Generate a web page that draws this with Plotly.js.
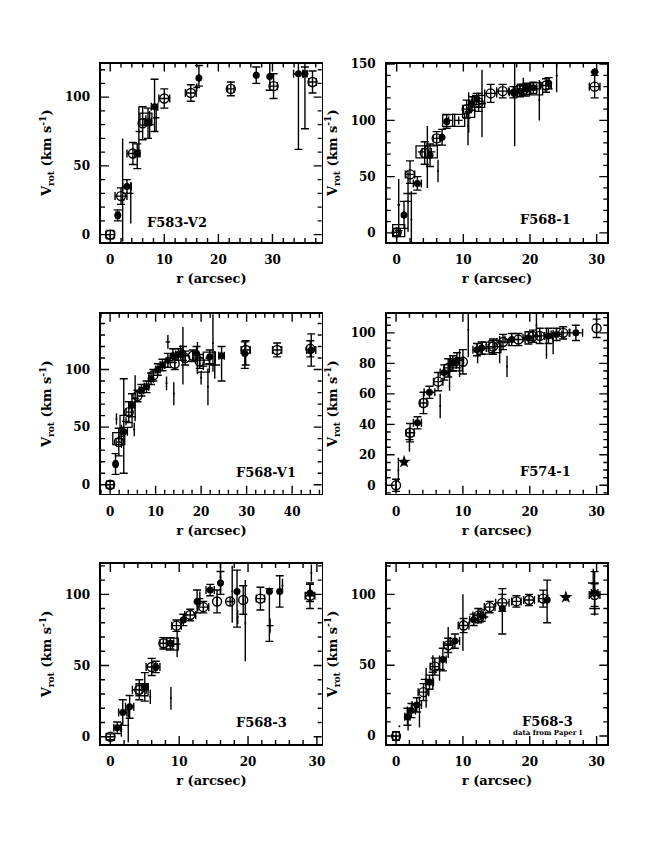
<!DOCTYPE html>
<html><head><meta charset="utf-8">
<script src="https://cdn.plot.ly/plotly-3.0.1.min.js"></script>
<style>html,body{margin:0;padding:0;background:#fff}#chart{width:664px;height:861px}</style>
</head><body><div id="chart"></div>
<script>
// rows: [r (arcsec), Vrot (km/s), err up, err down, err r]
// ---- F583-V2 ----
const F583V2_open = [[0,0,3,3,0.8],[2.0,28,6,6,1.1],[4.2,59,8,8,1.1],[6.0,81,12,12,0],[10.0,99,7,7,1.0],[14.9,103,6,6,1.0],[22.3,106,5,5,0.6],[30.2,108,9,9,0.7],[37.4,111,8,8,0.7]];
const F583V2_filled = [[1.4,14,4,4,0.3],[3.1,35,5,5,0.8],[5.0,59,7,11,0.5],[7.0,82,10,12,0.6],[8.2,93,20,18,0.6],[16.4,114,9,6,0],[27.0,116,6,6,0],[29.5,115,15,10,0],[34.8,117,20,55,0.9],[36.0,117,5,40,0.4]];
const F583V2_cross = [[2.3,25,45,30,0.3],[3.8,30,8,22,0.5],[5.3,75,18,18,0.6],[7.3,80,10,10,0.8],[8.5,85,10,10,0.6],[16.0,107,3,3,0.6]];
const F583V2_square = [[6.6,84,0,0,0]];
// ---- F568-1 ----
const F5681_open = [[0,0.6,3,3,0.5],[2.0,52,12,8,0.7],[4.2,71,10,10,0],[6.0,84,6,6,0.5],[10.5,110,8,8,0.5],[12.3,116,8,8,0],[14.1,124,8,8,0.9],[15.9,126,6,6,0.9],[19.0,127,5,5,0],[22.4,131,6,6,0.8],[29.7,130,10,10,0.8]];
const F5681_filled = [[1.1,16,12,12,0],[3.1,44,6,6,0.6],[5.0,69,10,10,0],[6.8,85,7,7,0],[7.5,99,6,6,0],[11.3,115,6,6,0],[12.0,119,5,5,0],[17.5,125,5,5,0.6],[18.5,126,5,5,0.6],[19.5,128,5,5,0.5],[20.5,129,5,5,0.5],[22.8,133,5,5,0],[29.7,143,0,0,0]];
const F5681_cross = [[0.3,25,23,27,0.2],[1.7,28,27,27,0.6],[2.2,12,25,25,0],[2.0,35,0,0,1.0],[4.6,60,35,20,0],[6.2,55,10,10,0],[10.7,95,17,17,0],[10.8,107,18,18,0.5],[12.8,115,30,30,0.6],[17.7,122,30,45,0.5],[21.4,118,18,18,0],[24.0,140,15,15,0],[19.0,131,7,7,0.8]];
const F5681_square = [[0.3,2,0,0,0],[3.8,72,0,0,0],[5.2,72,0,0,0],[7.8,100,0,0,0],[9.3,100,0,0,0],[10.8,108,0,0,0],[12.3,117,0,0,0],[19.0,127,0,0,0],[21.0,128,0,0,0]];
// ---- F568-V1 ----
const F568V1_open = [[0,0,3,3,0.8],[1.9,37,12,12,0.6],[4.1,63,9,9,0.6],[6.0,77,5,5,0],[9.5,95,5,5,0],[14.2,105,5,5,0],[16.5,110,6,6,0],[18.2,112,5,5,0],[19.7,107,6,6,0],[29.8,117,8,13,1.0],[36.7,117,6,6,1.0],[44.0,118,7,7,0]];
const F568V1_filled = [[1.2,18,9,9,0.3],[3.0,46,46,36,0.8],[4.8,69,10,10,0.6],[6.9,82,5,5,0.5],[8.0,85,5,5,0.5],[9.0,92,5,5,0.5],[10.5,100,5,5,0.5],[11.5,104,5,5,0.5],[12.7,108,6,6,0],[13.8,112,6,6,0],[15.0,113,5,5,0.6],[16.0,114,6,6,0],[19.0,114,6,6,0],[21.9,111,6,6,0],[24.5,112,8,22,0.6],[29.6,114,10,13,0],[44.2,117,14,14,1.0]];
const F568V1_cross = [[1.4,57,5,5,0],[2.5,42,10,10,0.8],[5.3,48,6,6,0],[5.5,75,20,20,0.8],[12.4,88,6,6,0],[12.7,124,6,6,0.5],[14.0,79,10,10,0],[15.5,116,5,5,0.5],[16.0,112,25,25,1.2],[19.2,110,14,14,1.2],[20.0,93,6,6,0],[21.5,85,16,16,0],[22.6,123,25,25,0],[23.0,104,12,12,1.2]];
const F568V1_square = [[1.9,40,0,0,0],[3.5,55,0,0,0],[20.5,103,0,0,0],[21.8,110,0,0,0]];
// ---- F574-1 ----
const F5741_open = [[0,0,4,4,0],[2.1,34.5,6,6,0.6],[4.1,54,7,7,0.5],[6.3,68,6,6,0.7],[7.8,77,6,6,0.6],[10.0,81,8,8,0],[14.5,91,5,5,1.0],[16.0,94,5,5,0.9],[18.3,95.6,4,4,1.0],[20.5,97.8,4,4,1.2],[21.5,98,5,5,1.0],[25.0,100,4,4,1.0],[30.0,103,6,6,0]];
const F5741_filled = [[3.2,41,4,4,0.6],[5.0,61,4,4,0.8],[7.2,74,5,5,0.6],[8.5,80,5,5,0.5],[9.1,82,5,5,1.0],[12.1,89,4,4,0.6],[12.8,90,4,4,0.7],[17.3,95.6,4,4,1.0],[19.8,96.7,4,4,0.8],[22.8,98,5,5,0.6],[24.0,99,4,4,0.8],[26.9,100,5,5,1.0]];
const F5741_star = [[1.2,15.4,0,0,0]];
const F5741_cross = [[0.35,10,8,8,0],[2.0,30,8,8,0.6],[6.6,52,8,8,0],[8.0,72,10,10,0],[9.5,80,9,9,0],[10.8,102,18,18,0],[12.2,85,5,5,0],[15.5,89,9,9,0],[16.6,78,7,7,0],[21.0,105,8,8,0],[22.5,93,10,10,0],[23.5,94,8,8,0]];
const F5741_square = [[9.0,79,0,0,0],[13.8,90,0,0,0],[14.8,91,0,0,0]];
// ---- F568-3 ----
const F5683_open = [[0,0,2,2,0.6],[4.2,33,7,7,1.0],[6.0,49,6,6,0.8],[7.7,65.6,4,4,0.5],[9.6,78,4,4,0.7],[11.6,85.5,4,4,0.8],[13.5,91,4,4,0.8],[15.5,95,8,8,0],[17.4,95,0,0,0],[19.3,96,10,10,0],[21.8,97,8,8,0.6],[29.0,99,9,9,0.7]];
const F5683_filled = [[1.0,6.3,4,4,0.5],[1.8,17,9,9,0.6],[2.8,21,8,8,0.6],[5.0,35,10,10,0.5],[6.6,49,4,4,0.6],[8.7,65.6,4,4,0.5],[10.6,82,4,4,0],[12.6,95,8,8,0],[14.5,103,4,4,0.6],[16.0,108,8,8,0],[18.4,102,15,25,0],[23.1,102,2,35,0],[24.6,102,11,11,0],[29.0,101,6,6,0]];
const F5683_cross = [[1.6,5,5,5,0],[2.6,8,12,12,0],[5.8,28,5,5,0],[8.8,27,8,8,0],[9.7,65,9,9,0.5],[13.0,97,5,5,0.5],[16.0,112,12,12,0],[17.7,102,18,22,0],[18.5,84,5,5,0],[19.6,80,30,27,0],[23.2,78,5,5,0.5],[25.0,106,5,5,0],[29.2,115,6,6,0]];
const F5683_square = [[4.6,33,0,0,0],[9.0,65,0,0,0]];
// ---- F568-3 (Paper I) ----
const F5683P_open = [[0,0,3,3,0.5],[4.1,31,6,6,0.8],[5.8,49,6,6,0.7],[7.8,64,5,5,0.7],[10.1,78,5,5,0.8],[12.3,85,5,5,0.8],[14.0,91,4,4,0.8],[15.9,94,6,6,1.0],[18.0,95,4,4,0.7],[19.9,96,4,4,0.8],[22.0,97,6,6,0.7],[29.7,99.5,8,8,0.8]];
const F5683P_filled = [[1.7,13.6,6,6,0.4],[2.3,18,5,5,0.6],[3.1,22,5,5,0.7],[5.0,38,5,5,0.6],[7.0,54,8,8,0.5],[8.8,67,5,5,0.7],[11.6,82,4,4,0.6],[12.8,85,4,4,0.6],[15.9,90,14,18,0],[22.6,96,14,16,0],[29.7,101,15,15,0.5]];
const F5683P_star = [[25.4,98,0,0,0]];
const F5683P_cross = [[0.5,7,0,0,0],[1.8,12,5,8,0],[3.5,22,6,16,0],[4.5,40,8,20,0.8],[5.5,45,12,12,0.6],[6.5,47,8,8,0.8],[7.8,65,12,10,0.6],[10.0,80,20,20,0],[13.0,84,4,4,0.8],[29.5,108,10,10,0.8],[29.7,90,5,5,0.8]];

const names = ['F583-V2','F568-1','F568-V1','F574-1','F568-3','F568-3'];
const xRanges = [[-1.7,39.1],[-1.5,31.6],[-2.0,46.5],[-1.4,31.6],[-1.36,30.7],[-1.4,31.6]];
const yRanges = [[-5.4,124.5],[-8.1,150.6],[-7.8,148.4],[-5.5,112.5],[-5.1,121.3],[-5.6,121.4]];
const xDtick = 10;
const yDticks = [50,50,50,20,50,50];
const yMinor = [10,10,10,5,10,10];
const xMinor = [2,2,2,2,2,2];
const labelPos = [[12.4,9],[22.4,12],[34.2,10.6],[22.4,8.8],[22,9.8],[22.6,10.5]];

const FONT = 'DejaVu Serif';
const traces = [];
function nz(a){ return a.map(v => v ? v : null); }
function add(rows, kind, i){
  const xa = 'x' + (i ? i+1 : ''), ya = 'y' + (i ? i+1 : '');
  const cap = (kind === 'cross') ? 0 : 4;
  let marker;
  if (kind === 'open') marker = {symbol:'circle-open', size:9, color:'#000', line:{width:1.4, color:'#000'}};
  else if (kind === 'filled') marker = {symbol:'circle', size:7, color:'#000'};
  else if (kind === 'square') marker = {symbol:'square-open', size:12, color:'#000', line:{width:1.3, color:'#000'}};
  else if (kind === 'star') marker = {symbol:'star', size:10, color:'#000'};
  else marker = {symbol:'circle', size:2, color:'#000'};
  traces.push({
    type:'scatter', mode:'markers', xaxis:xa, yaxis:ya, showlegend:false, hoverinfo:'skip',
    x: rows.map(d=>d[0]), y: rows.map(d=>d[1]), marker: marker,
    error_y: {type:'data', symmetric:false, array:nz(rows.map(d=>d[2])), arrayminus:nz(rows.map(d=>d[3])), color:'#000', thickness:1.4, width:cap, visible:true},
    error_x: {type:'data', array:nz(rows.map(d=>d[4])), color:'#000', thickness:1.4, width:cap, visible:true}
  });
}
const panels = [
  {open:F583V2_open, filled:F583V2_filled, cross:F583V2_cross, square:F583V2_square},
  {open:F5681_open, filled:F5681_filled, cross:F5681_cross, square:F5681_square},
  {open:F568V1_open, filled:F568V1_filled, cross:F568V1_cross, square:F568V1_square},
  {open:F5741_open, filled:F5741_filled, cross:F5741_cross, square:F5741_square, star:F5741_star},
  {open:F5683_open, filled:F5683_filled, cross:F5683_cross, square:F5683_square},
  {open:F5683P_open, filled:F5683P_filled, cross:F5683P_cross, star:F5683P_star}
];
panels.forEach((p,i)=>{
  ['cross','square','open','filled','star'].forEach(k=>{ if (p[k]) add(p[k], k, i); });
});

// tick values inside a range
function tickVals(rng, dt){
  const out = [];
  for (let k = Math.ceil(rng[0]/dt - 1e-9); k*dt <= rng[1] + 1e-9; k++) out.push(+(k*dt).toFixed(6));
  return out;
}

const W = 664, H = 861;
const colX = [[101,321.7],[386.7,607.3]];
const rowY = [[63.5,242],[313.8,493.7],[564,744]];
const layout = {
  width:W, height:H, margin:{l:0,r:0,t:0,b:0}, paper_bgcolor:'#fff', plot_bgcolor:'#fff',
  font:{family:FONT, color:'#000', size:12}, showlegend:false, annotations:[]
};
const MAJ = 8, MIN = 4;
for (let i=0;i<6;i++){
  const c = colX[i%2], r = rowY[Math.floor(i/2)];
  const sfx = i ? String(i+1) : '';
  const tf = {family:FONT, size:12, color:'#000', weight:'bold'};
  const dx = [c[0]/W, c[1]/W], dy = [1-r[1]/H, 1-r[0]/H];
  layout['xaxis'+sfx] = {
    domain:dx, range:xRanges[i], anchor:'y'+sfx, tickmode:'linear', dtick:xDtick, tick0:0,
    ticks:'', showline:true, mirror:true, linewidth:1.6, linecolor:'#000',
    showgrid:false, zeroline:false, ticklabelstandoff:6,
    tickfont:tf, title:{text:'r (arcsec)', font:{family:FONT, size:13, color:'#000', weight:'bold'}, standoff:8}
  };
  layout['yaxis'+sfx] = {
    domain:dy, range:yRanges[i], anchor:'x'+sfx, tickmode:'linear', dtick:yDticks[i], tick0:0,
    ticks:'', showline:true, mirror:true, linewidth:1.6, linecolor:'#000',
    showgrid:false, zeroline:false, ticklabelstandoff:7,
    tickfont:tf, title:{text:'V<sub>rot</sub> (km s<sup>-1</sup>)', font:{family:FONT, size:13, color:'#000', weight:'bold'}, standoff:10}
  };
  // inward tick marks on all four sides, drawn as clipped bars centred on the frame
  const pxX = (c[1]-c[0])/(xRanges[i][1]-xRanges[i][0]);
  const pxY = (r[1]-r[0])/(yRanges[i][1]-yRanges[i][0]);
  const xMaj = tickVals(xRanges[i], xDtick), yMaj = tickVals(yRanges[i], yDticks[i]);
  const xt = tickVals(xRanges[i], xMinor[i]);
  const xLen = xt.map(v => (xMaj.some(m=>Math.abs(m-v)<1e-6) ? MAJ : MIN)/pxY);
  const yt = tickVals(yRanges[i], yMinor[i]);
  const yLen = yt.map(v => (yMaj.some(m=>Math.abs(m-v)<1e-6) ? MAJ : MIN)/pxX);
  const tk = {type:'scatter', mode:'markers', xaxis:'x'+sfx, yaxis:'y'+sfx, showlegend:false, hoverinfo:'skip',
    cliponaxis:true, marker:{size:0, opacity:0}};
  [yRanges[i][0], yRanges[i][1]].forEach(yy=>traces.push(Object.assign({}, tk, {
    x:xt, y:xt.map(()=>yy), error_y:{type:'data', array:xLen, symmetric:true, width:0, thickness:1.4, color:'#000', visible:true}})));
  [xRanges[i][0], xRanges[i][1]].forEach(xx=>traces.push(Object.assign({}, tk, {
    y:yt, x:yt.map(()=>xx), error_x:{type:'data', array:yLen, symmetric:true, width:0, thickness:1.4, color:'#000', visible:true}})));
  layout.annotations.push({xref:'x'+sfx, yref:'y'+sfx, x:labelPos[i][0], y:labelPos[i][1], text:names[i], showarrow:false,
    font:{family:FONT, size:13, color:'#000', weight:'bold'}, xanchor:'center', yanchor:'middle'});
}
layout.annotations.push({xref:'x6', yref:'y6', x:22.6, y:2.3, text:'data from Paper I', showarrow:false,
  font:{family:FONT, size:7, color:'#000', weight:'bold'}, xanchor:'center', yanchor:'middle'});
Plotly.newPlot('chart', traces, layout, {staticPlot:true, displayModeBar:false});
</script></body></html>
